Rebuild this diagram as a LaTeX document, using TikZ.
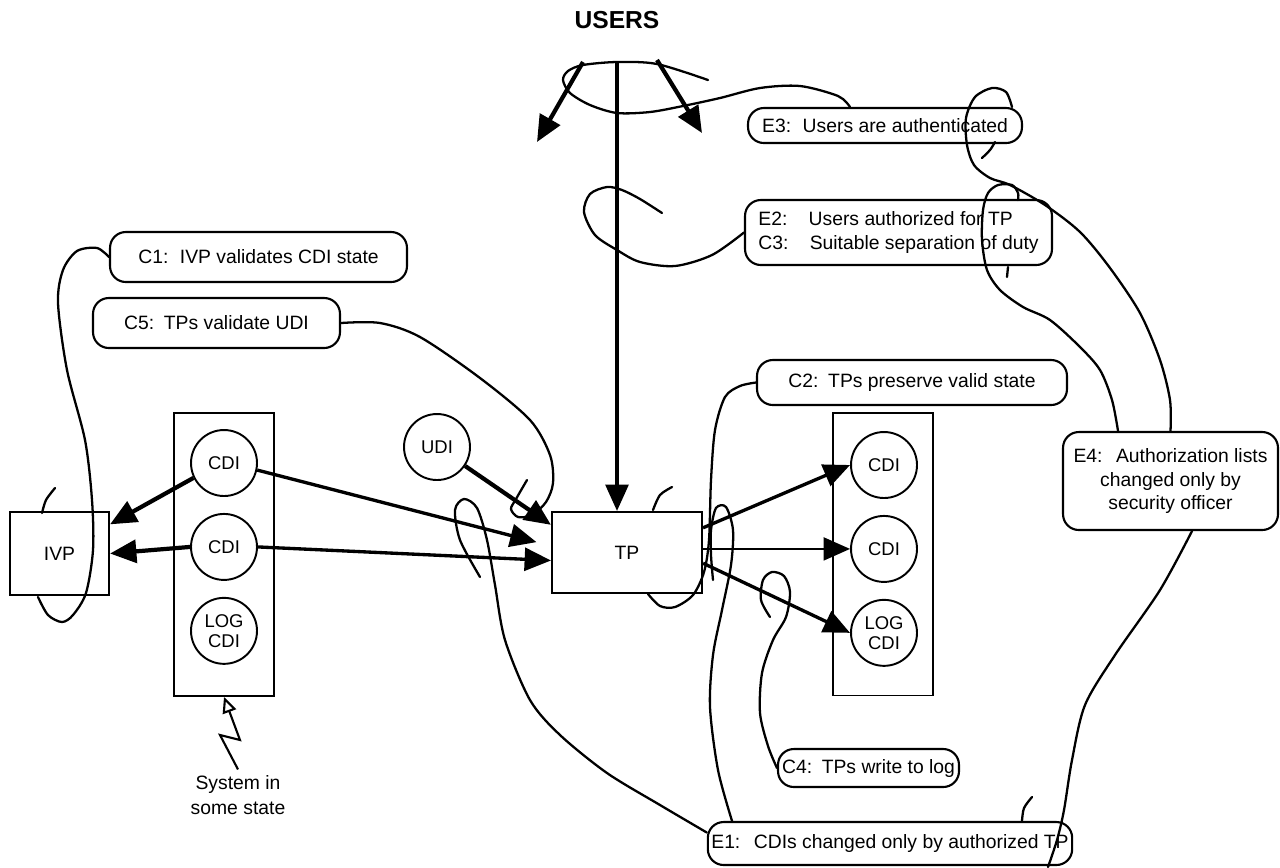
\documentclass[tikz,border=0pt]{standalone}
\usepackage{fontspec}
\setmainfont{Liberation Sans}
\usepackage{tikz}
\usetikzlibrary{arrows.meta, positioning, calc}
\tikzset{
  note/.style={rectangle, rounded corners=9pt, draw, line width=1.2pt, fill=white, align=center, font=\fontsize{11}{13.5}\selectfont, inner sep=2pt},
  store/.style={rectangle, draw, line width=1.1pt, fill=white, minimum width=2cm, minimum height=5.66cm},
  item/.style={circle, draw, line width=1.1pt, fill=white, minimum size=1.32cm, inner sep=0pt, align=center, font=\fontsize{10.5}{11.5}\selectfont},
  proc/.style={rectangle, draw, line width=1.2pt, fill=white, font=\fontsize{11}{12}\selectfont},
  flow/.style={-{Triangle[length=15pt,width=13pt]}, line width=1.9pt},
  heavy/.style={flow, line width=2.4pt},
  lasso/.style={line width=1.3pt, line cap=round},
}

\begin{document}
\begin{tikzpicture}[x=0.02cm, y=-0.02cm, node distance=0.32cm]
  \useasboundingbox (0,0) rectangle (1280,867);

  \node[font=\fontsize{14}{16}\selectfont\bfseries] (users) at (617,20) {USERS};

  % system state
  \node[store] (storeL) at (224,554.5) {};
  \node[store] (storeR) at (883,554) {};
  \node[item] (cdiLa) at (224,463) {CDI};
  \node[item, below=of cdiLa] (cdiLb) {CDI};
  \node[item, below=of cdiLb] (logL) {LOG\\CDI};
  \node[item] (cdiRa) at (884,465) {CDI};
  \node[item, below=of cdiRa] (cdiRb) {CDI};
  \node[item, below=of cdiRb] (logR) {LOG\\CDI};
  \node[item] (udi) at (437,447) {UDI};

  \node[proc, minimum width=1.98cm, minimum height=1.66cm] (ivp) at (59.5,553.5) {IVP};
  \node[proc, minimum width=3cm, minimum height=1.62cm] (tp) at (627,552.5) {TP};

  % rules
  \node[note, minimum width=5.94cm, minimum height=1cm] (c1) at (258.5,257) {C1:\hspace{0.6em}IVP validates CDI state};
  \node[note, minimum width=4.94cm, minimum height=1cm] (c5) at (216.5,323) {C5:\hspace{0.5em}TPs validate UDI};
  \node[note, minimum width=5.48cm, minimum height=0.7cm] (e3) at (885,125.5) {E3:\hspace{0.6em}Users are authenticated};
  \node[note, minimum width=6.14cm, minimum height=1.3cm, align=left] (e2) at (898.5,232.5) {E2:\hspace{1.1em}Users authorized for TP\\C3:\hspace{1.1em}Suitable separation of duty};
  \node[note, minimum width=6.2cm, minimum height=0.9cm] (c2) at (912,382.5) {C2:\hspace{0.5em}TPs preserve valid state};
  \node[note, minimum width=4.3cm, minimum height=1.96cm] (e4) at (1170.5,481) {E4:\hspace{0.7em}Authorization lists\\changed only by\\security officer};
  \node[note, minimum width=3.62cm, minimum height=0.76cm] (c4) at (868.5,768) {C4:\hspace{0.5em}TPs write to log};
  \node[note, minimum width=7.12cm, minimum height=0.86cm] (e1) at (890,843.5) {E1:\hspace{0.7em}CDIs changed only by authorized TP};
  \node[font=\fontsize{11}{14}\selectfont, align=center] (sys) at (238,795) {System in\\some state};

  % arrows
  \coordinate (uL0) at (583,62);
  \coordinate (uL1) at (537,142);
  \coordinate (uR0) at (657,60);
  \coordinate (uR1) at (702,133);
  \coordinate (uTop) at (617,62);
  \draw[heavy] (uL0) -- (uL1);
  \draw[heavy] (uR0) -- (uR1);
  \draw[flow] (uTop) -- (uTop |- tp.north);

  \draw[heavy] (cdiLa.206) -- (ivp.30);
  \draw[heavy] (cdiLb.west) -- (ivp.east);
  \draw[flow, shorten >=8.5pt] (cdiLa.-12) -- (tp.175);
  \draw[flow] (cdiLb.east) -- (tp.186);
  \draw[heavy] (udi.-34) -- (tp.160);
  \draw[flow] (tp.18) -- (cdiRa.west);
  \draw[flow, line width=1.3pt] (tp.east |- cdiRb) -- (cdiRb.west);
  \draw[flow] (tp.-8) -- (logR.west);

  \draw[line width=1.2pt, -{Triangle[open, length=9pt, width=8pt]}] (sys.north) -- (220,735) -- (240,740) -- (storeL.south);

  % lassos
  \draw[lasso] plot[smooth] coordinates {(c1.west) (97,248) (77,251) (63,270) (58,303) (67,370) (85,440) (92,500) (93,550) (86,593) (73,615) (62,622) (48,615) (38,597)};
  \draw[lasso] plot[smooth] coordinates {(42,513) (46,500) (55,488)};

  \draw[lasso] plot[smooth] coordinates {(c5.east) (380,323) (420,337) (480,378) (530,420) (550,455) (553,483) (546,502) (532,515) (518,517) (511,509) (516,499) (527,480)};

  \draw[lasso] plot[smooth] coordinates {([xshift=-0.7cm]e3.north) (838,96) (800,86) (760,88) (720,98) (683,106) (650,112) (617,113) (590,105) (570,93) (563,80) (568,71) (583,65) (617,62) (657,64) (708,80)};

  \draw[lasso] plot[smooth] coordinates {(e2.west) (712,255) (675,266) (640,262) (617,250) (595,235) (584,212) (590,194) (607,187) (622,190) (640,199) (662,213)};

  \draw[lasso] plot[smooth] coordinates {(c2.west) (740,386) (725,397) (715,430) (711,480) (709,540) (704,572) (693,595) (675,607) (660,606) (648,594)};
  \draw[lasso] plot[smooth] coordinates {(653,510) (660,495) (672,487)};

  \draw[lasso] plot[smooth] coordinates {(c4.west) (768,746) (760,713) (762,673) (773,640) (786,617) (790,592) (784,576) (772,572) (763,580) (761,600) (770,617)};

  \draw[lasso] plot[smooth] coordinates {([yshift=0.22cm]e1.west) (660,805) (607,773) (560,735) (530,700) (505,640) (495,585) (487,540) (477,508) (464,499) (455,510) (460,540) (480,577)};
  \draw[lasso] plot[smooth] coordinates {([xshift=-3.16cm]e1.north) (718,770) (710,707) (713,655) (722,610) (731,565) (733,530) (726,507) (716,508) (711,530) (711,555) (713,580)};

  \draw[lasso] plot[smooth] coordinates {(e4.north) (1170,400) (1160,360) (1140,313) (1110,268) (1080,232) (1045,205) (1010,185) (990,178) (974,165) (967,145) (966,118) (975,97) (992,88) (1006,92) (1012,107)};
  \draw[lasso] plot[smooth] coordinates {(995,142) (990,150) (982,158)};
  \draw[lasso] plot[smooth] coordinates {([xshift=-1.05cm]e4.north) (1112,400) (1100,370) (1080,347) (1050,320) (1023,307) (1000,290) (987,270) (982,240) (983,210) (988,193) (998,185) (1012,185) (1018,193) (1018,200)};
  \draw[lasso] plot[smooth] coordinates {(1008,267) (1007,277)};
  \draw[lasso] plot[smooth] coordinates {([xshift=0.43cm]e4.south) (1160,590) (1115,655) (1085,705) (1072,760) (1064,810) (1057,840) (1048,867)};
  \draw[lasso] plot[smooth] coordinates {([xshift=2.64cm]e1.north) (1024,808) (1032,797)};
\end{tikzpicture}
\end{document}
